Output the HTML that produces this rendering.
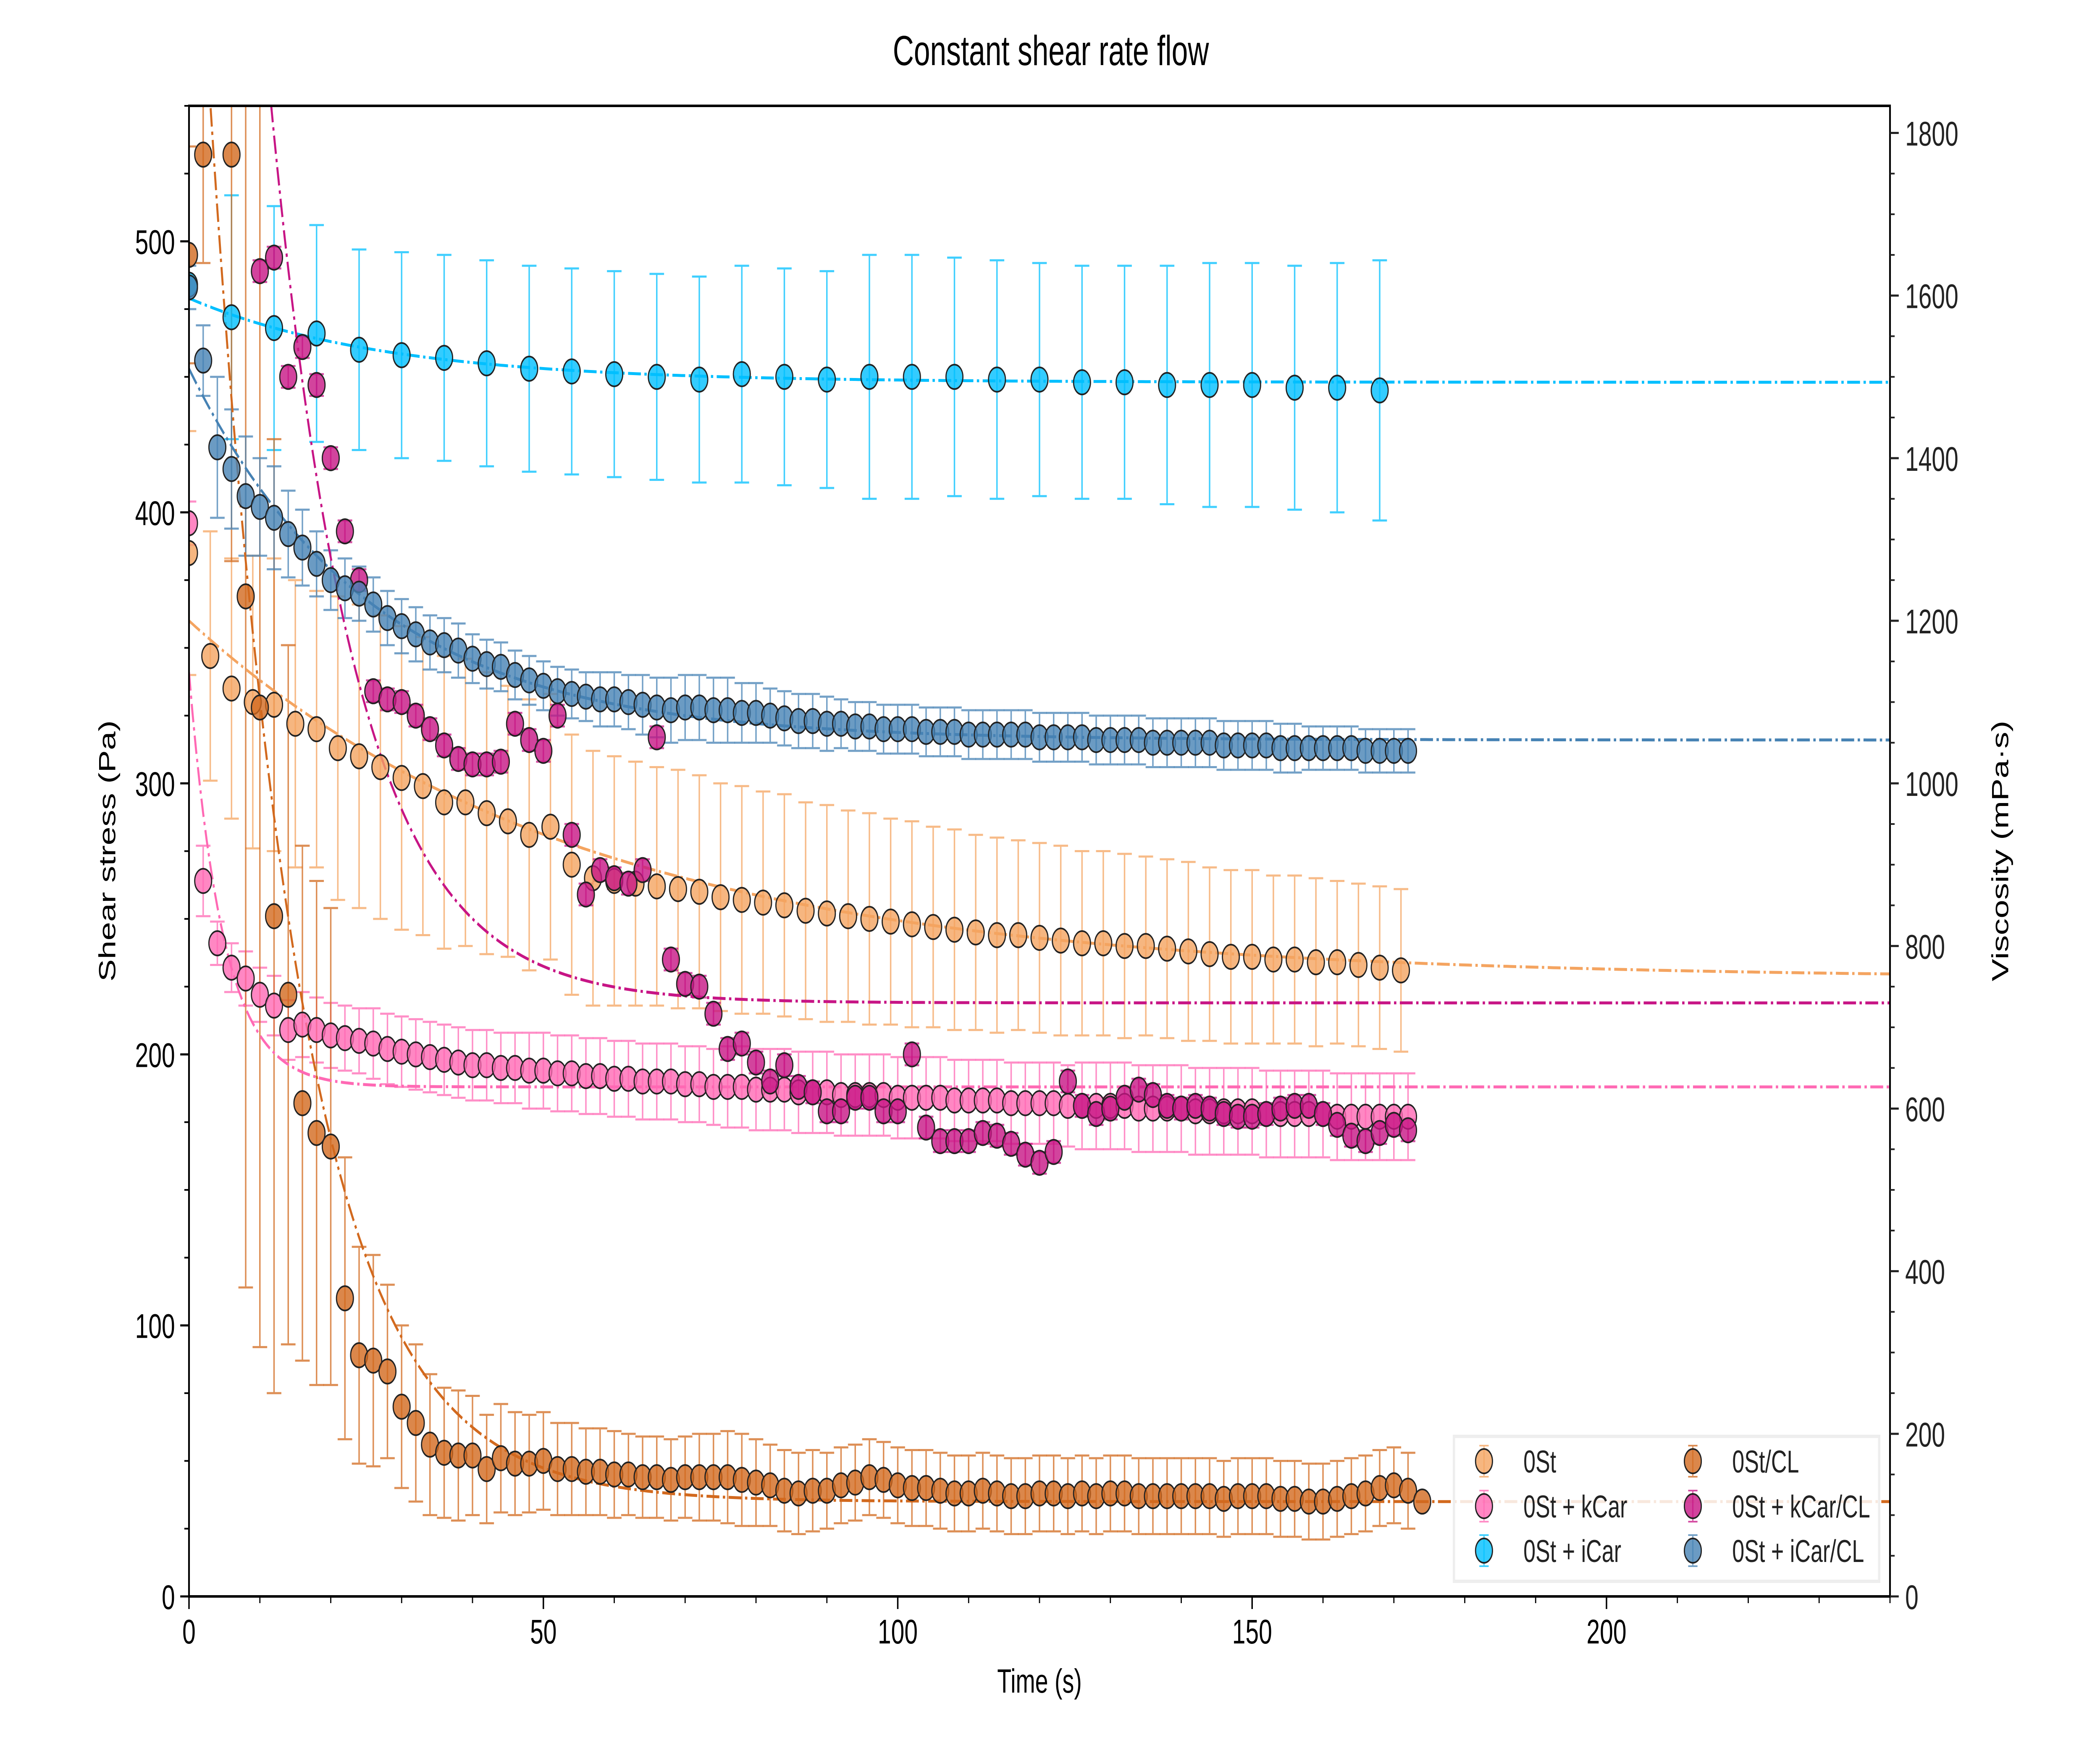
<!DOCTYPE html>
<html><head><meta charset="utf-8"><style>
html,body{margin:0;padding:0;background:#fff;width:100%;height:100%;overflow:hidden}
svg{display:block;position:absolute;left:0;top:0;width:100vw;height:100vh;font-family:"Liberation Sans",Arial,sans-serif}
</style></head><body>
<svg id="chart" xmlns="http://www.w3.org/2000/svg" viewBox="0 0 7200 4200" preserveAspectRatio="none">
<defs><clipPath id="plotclip"><rect x="648" y="252" width="5832" height="3549"/></clipPath></defs>
<rect x="0" y="0" width="7200" height="4200" fill="#fff"/>
<text x="3603" y="155" font-size="100" text-anchor="middle">Constant shear rate flow</text>
<text x="3564" y="4030" font-size="80" text-anchor="middle">Time (s)</text>
<text transform="translate(395,2026) rotate(-90)" font-size="80" text-anchor="middle">Shear stress (Pa)</text>
<text transform="translate(6885,2026) rotate(-90)" font-size="80" text-anchor="middle">Viscosity (mPa·s)</text>
<g id="series" clip-path="url(#plotclip)"></g>
<g id="axes"></g>
<g id="legend"></g>
</svg>
<script>
// ---- data ----
const names = ["0St","0St + kCar","0St + iCar","0St/CL","0St + kCar/CL","0St + iCar/CL"];
const colors = ["#f4a460","#ff69b4","#00bfff","#d2691e","#c71585","#4682b4"];
const startT = [0,0,0,0,10,0];
const stepT = [3,2,6,2,2,2];
const s0St = [385,347,335,330,329,322,320,313,310,306,302,299,293,293,289,286,281,284,270,265,264,263,262,261,260,258,257,256,255,253,252,251,250,249,248,247,246,245,244,244,243,242,241,241,240,240,239,238,237,236,236,235,235,234,234,233,232,231];
const e0St = [45,46,48,54,54,53,51,56,56,56,56,55,54,53,52,50,50,49,48,47,46,45,44,44,43,42,42,41,41,40,40,39,39,38,38,37,37,36,36,35,35,35,34,34,34,33,33,33,32,32,32,31,31,31,30,30,30,30];
const sKcar = [396,264,241,232,228,222,218,209,211,209,207,206,205,204,202,201,200,199,198,197,196,196,195,195,194,194,193,193,192,192,191,191,190,190,190,189,189,188,188,188,187,187,187,186,186,186,185,185,185,185,184,184,184,184,183,183,183,183,182,182,182,182,181,181,181,181,181,180,180,180,180,179,179,179,179,179,178,178,178,178,178,177,177,177,177,177,177];
const eKcar = [8,13,8,9,10,10,11,11,12,12,12,12,12,13,13,13,13,13,13,13,13,13,13,13,14,14,14,14,14,14,14,14,14,14,14,14,14,14,15,15,15,15,15,15,15,15,15,15,15,15,15,15,15,15,15,15,15,15,15,15,15,15,15,16,16,16,16,16,16,16,16,16,16,16,16,16,16,16,16,16,16,16,16,16,16,16,16];
const sIcar = [484,472,468,466,460,458,457,455,453,452,451,450,449,451,450,449,450,450,450,449,449,448,448,447,447,447,446,446,445];
const eIcar = [0,45,45,40,37,38,38,38,38,38,38,38,38,40,40,40,45,45,44,44,43,43,43,44,45,45,45,46,48];
const sCL = [495,532,640,532,369,328,251,222,182,171,166,110,89,87,83,70,64,56,53,52,52,47,51,49,49,50,47,47,46,46,45,45,44,44,43,44,44,44,44,43,42,41,39,38,39,39,41,42,44,43,41,40,40,39,38,38,39,38,37,37,38,38,37,38,37,38,38,37,37,37,37,37,37,36,37,37,37,36,36,35,35,36,37,38,40,41,39,35];
const eCL = [40,40,0,150,255,236,176,129,95,93,88,52,40,39,32,30,29,26,24,24,22,20,20,19,18,18,17,17,16,16,16,15,15,15,15,15,16,16,17,17,16,15,15,15,15,14,14,14,14,14,14,14,14,14,14,14,14,14,14,14,14,14,14,14,14,14,14,14,14,14,14,14,14,14,14,14,14,14,14,14,14,14,14,14,14,14,14];
const sKcarCL = [489,494,450,461,447,420,393,375,334,331,330,325,320,314,309,307,307,308,322,316,312,325,281,259,268,265,263,268,317,235,226,225,215,202,204,197,190,196,188,186,179,179,184,184,179,179,200,173,168,168,168,171,170,167,163,160,164,190,181,178,180,184,187,185,181,180,181,180,178,177,177,178,180,181,181,178,174,170,168,171,174,172];
const eKcarCL = [4];
const sIcarCL = [483,456,424,416,406,402,398,392,387,381,375,372,370,366,361,358,355,352,351,349,346,344,343,340,338,336,334,333,332,331,331,330,329,328,327,328,328,327,327,326,326,325,324,323,323,322,322,321,321,320,320,320,319,319,319,318,318,318,318,318,317,317,317,317,316,316,316,316,315,315,315,315,315,314,314,314,314,313,313,313,313,313,313,312,312,312,312];
const eIcarCL = [8,13,26,22,22,18,19,16,14,12,11,11,10,10,10,10,10,10,10,10,9,9,9,9,9,9,9,9,9,10,10,10,11,11,12,12,12,12,12,11,11,10,10,10,10,10,9,9,9,9,9,9,9,9,9,9,9,9,9,9,9,9,9,9,9,9,9,9,9,9,9,9,9,9,9,9,9,9,9,8,8,8,8,8,8,8,8];
const fitA = [228,188,448,35,219,316];
const fitB = [132,153,31,655,870,137];
const fitTau = [55,4.8,27.6,12.6,12,25.7];
const xTicks = [0,50,100,150,200];
const yTicks = [0,100,200,300,400,500];
const y2Ticks = [0,200,400,600,800,1000,1200,1400,1600,1800];

const values = [s0St,sKcar,sIcar,sCL,sKcarCL,sIcarCL];
const errs = [e0St,eKcar,eIcar,eCL,eKcarCL,eIcarCL];

// ---- axes functions ----
const L=648,R=6480,T=252,B=3801,XMAX=240,YMAX=550,Y2MAX=YMAX/0.3;
const X=t=>L+(t/XMAX)*(R-L);
const Y=v=>B-(v/YMAX)*(B-T);
const Y2=v=>B-(v/Y2MAX)*(B-T);
const NS="http://www.w3.org/2000/svg";
function mk(tag,attrs,parent){const e=document.createElementNS(NS,tag);for(const k in attrs)e.setAttribute(k,attrs[k]);parent.appendChild(e);return e;}
const gS=document.getElementById('series'),gA=document.getElementById('axes'),gL=document.getElementById('legend');

// error bars
for(let s=0;s<6;s++){
  const g=mk('g',{},gS);
  
  
  values[s].forEach((v,i)=>{
    const e=errs[s].length===1?errs[s][0]:errs[s][i];
    if(!e)return;
    const t=startT[s]+i*stepT[s],x=X(t);
    const l=mk('path',{d:`M${x},${Y(v-e)}V${Y(v+e)}M${x-25},${Y(v-e)}h50M${x-25},${Y(v+e)}h50`,stroke:colors[s],'stroke-width':5,'stroke-opacity':0.75,fill:'none'},g);
    
    
  });
}
// fit lines
for(let s=0;s<6;s++){
  let d='';
  for(let t=0;t<=XMAX;t+=0.5){const v=fitA[s]+fitB[s]*Math.exp(-t/fitTau[s]);d+=(t===0?'M':'L')+X(t).toFixed(1)+','+Y(Math.min(v,700)).toFixed(1);}
  const p=mk('path',{d:d,stroke:colors[s],'stroke-width':7,fill:'none','stroke-dasharray':'44,12,8,12'},gS);
  
  
}
// markers
for(let s=0;s<6;s++){
  const g=mk('g',{},gS);
  
  
  values[s].forEach((v,i)=>{
    const t=startT[s]+i*stepT[s];
    const c=mk('circle',{cx:X(t),cy:Y(v),r:29,fill:colors[s],'fill-opacity':0.8,stroke:'#222','stroke-width':4},g);
    
    
  });
}
// axes
mk('rect',{x:L,y:T,width:R-L,height:B-T,fill:'none',stroke:'#000','stroke-width':6},gA);
xTicks.forEach(v=>{
  mk('line',{x1:X(v),x2:X(v),y1:B,y2:B+30,stroke:'#000','stroke-width':5},gA);
  const tx=mk('text',{x:X(v),y:B+112,'font-size':82,'text-anchor':'middle'},gA);tx.textContent=v;
  
  
});
for(let v=0;v<=XMAX;v+=10) mk('line',{x1:X(v),x2:X(v),y1:B,y2:B+16,stroke:'#000','stroke-width':4},gA);
yTicks.forEach(v=>{
  mk('line',{x1:L-30,x2:L,y1:Y(v),y2:Y(v),stroke:'#000','stroke-width':5},gA);
  const tx=mk('text',{x:L-48,y:Y(v)+30,'font-size':82,'text-anchor':'end'},gA);tx.textContent=v;
  
  
});
for(let v=0;v<=YMAX;v+=25) mk('line',{x1:L-16,x2:L,y1:Y(v),y2:Y(v),stroke:'#000','stroke-width':4},gA);
y2Ticks.forEach(v=>{
  mk('line',{x1:R,x2:R+30,y1:Y2(v),y2:Y2(v),stroke:'#222','stroke-width':5},gA);
  const tx=mk('text',{x:R+52,y:Y2(v)+30,'font-size':82,'text-anchor':'start',fill:'#222'},gA);tx.textContent=v;
  
  
});
for(let v=0;v<=Y2MAX;v+=50) mk('line',{x1:R,x2:R+16,y1:Y2(v),y2:Y2(v),stroke:'#222','stroke-width':4},gA);
// legend
const lb=mk('rect',{x:4985,y:3420,width:1458,height:345,fill:'#fff','fill-opacity':0.85,stroke:'#eee','stroke-width':8},gL);


const legX=[5088,5088,5088,5804,5804,5804],legY=[3479,3586,3692,3479,3586,3692];
for(let s=0;s<6;s++){
  const g=mk('g',{},gL);
  
  
  const x=legX[s],y=legY[s];
  mk('path',{d:`M${x},${y-37}V${y+37}M${x-16},${y-37}h32M${x-16},${y+37}h32`,stroke:colors[s],'stroke-width':4,'stroke-opacity':0.75,fill:'none'},g);
  mk('circle',{cx:x,cy:y,r:29,fill:colors[s],'fill-opacity':0.8,stroke:'#222','stroke-width':4},g);
  const tx=mk('text',{x:x+135,y:y+27,'font-size':75,fill:'#222'},g);tx.textContent=names[s];
}
</script>
</body></html>
